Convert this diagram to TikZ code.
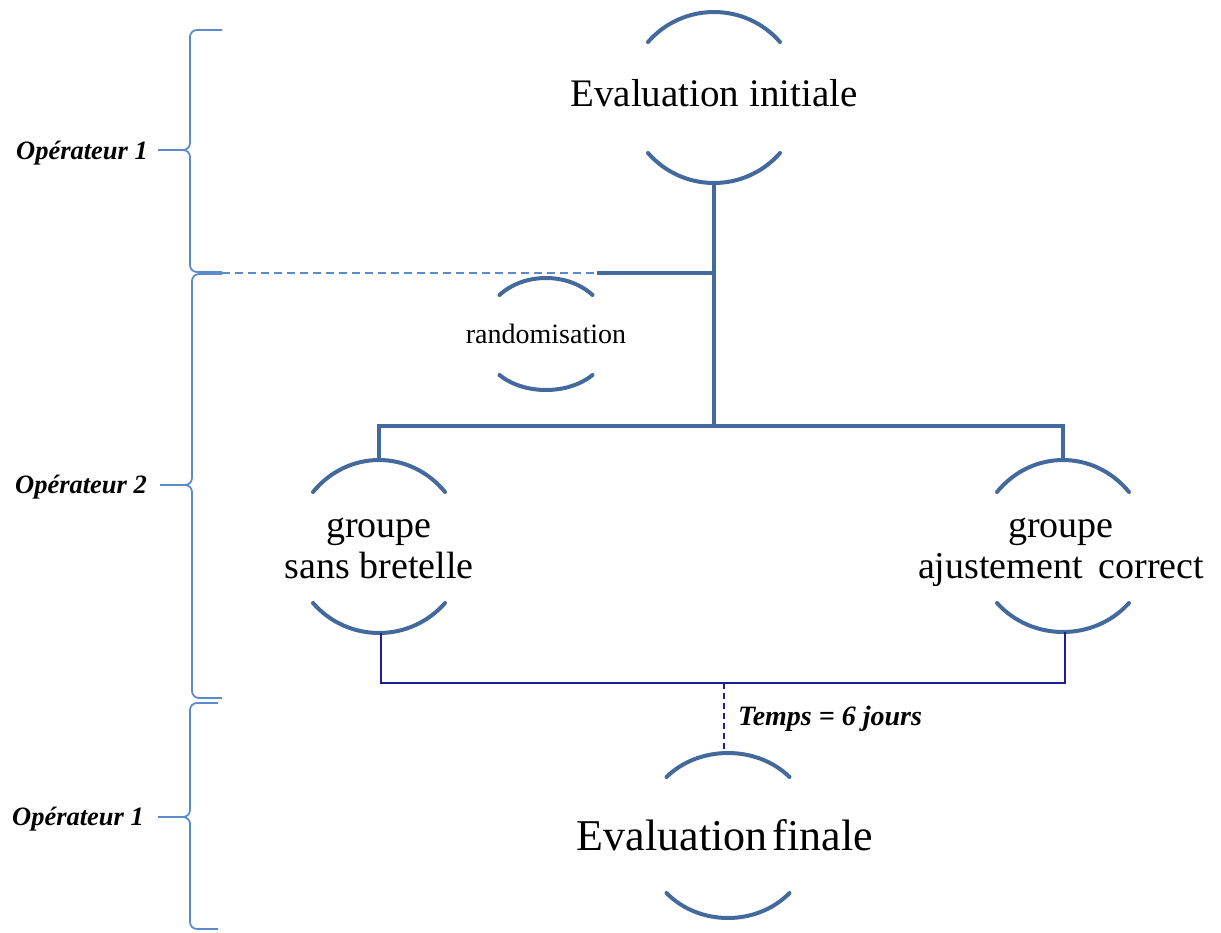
\documentclass[tikz,border=0pt]{standalone}
\usepackage{fontspec}
\setmainfont{Liberation Serif}
\definecolor{linec}{HTML}{44699C}
\definecolor{bracec}{HTML}{5B8BCB}
\definecolor{navyc}{HTML}{1E1E9A}
\newcommand\arcpair[6]{%
  \draw[arcline, shift={(#1)}] (-#2,#3) .. controls ({-0.47*#2},{#3-1.333*#4}) and ({0.47*#2},{#3-1.333*#4}) .. (#2,#3);
  \draw[arcline, shift={(#1)}] (-#2,#5) .. controls ({-0.47*#2},{#5+1.333*#6}) and ({0.47*#2},{#5+1.333*#6}) .. (#2,#5);
}
\begin{document}
\begin{tikzpicture}[x=1pt,y=-1pt,
  mainline/.style={draw=linec, line width=4.5pt},
  arcline/.style={draw=linec, line width=4pt, line cap=round},
  bracest/.style={draw=bracec, line width=1.8pt, rounded corners=7pt},
  navyline/.style={draw=navyc, line width=2.8pt},
  oplbl/.style={font=\fontsize{26.5}{30}\selectfont\bfseries\itshape, anchor=base, inner sep=0pt},
  txt/.style={anchor=base, inner sep=0pt, align=center}]
\useasboundingbox (0,0) rectangle (1221,932);

% braces
\draw[bracest] (222,30) -- (190,30) -- (190,150) -- (158,150);
\draw[bracest] (222,272) -- (190,272) -- (190,150) -- (158,150);
\draw[bracest] (222,274) -- (192,274) -- (192,485) -- (160,485);
\draw[bracest] (222,698) -- (192,698) -- (192,485) -- (160,485);
\draw[bracest] (218,703) -- (190,703) -- (190,817) -- (158,817);
\draw[bracest] (218,929) -- (190,929) -- (190,817) -- (158,817);

\node[oplbl] (op1) at (82,159) {Opérateur 1};
\node[oplbl] (op2) at (81,493) {Opérateur 2};
\node[oplbl] (op3) at (78,825) {Opérateur 1};

% Evaluation initiale
\coordinate (ei) at (714,97);
\node[txt, font=\fontsize{39}{45}\selectfont] (eit) at (714,106) {Evaluation initiale};
\arcpair{ei}{66}{-55}{30}{56}{30}

% randomisation
\coordinate (rd) at (546,335);
\node[txt, font=\fontsize{28}{30}\selectfont] (rdt) at (546,343) {randomisation};
\arcpair{rd}{46.5}{-40}{17}{40}{15}

% groups
\coordinate (gl) at (379,547);
\node[txt, font=\fontsize{38}{41}\selectfont] (glt) at (379,578) {groupe\\sans bretelle};
\arcpair{gl}{66}{-55}{32}{56}{30}
\coordinate (gr) at (1063,547);
\node[txt, font=\fontsize{38}{41}\selectfont] (grt) at (1061,578) {groupe\\ajustement\, correct};
\arcpair{gr}{66}{-55}{32}{56}{29}

% Evaluation finale
\coordinate (ef) at (728,835);
\node[txt, font=\fontsize{44}{50}\selectfont] (eft) at (725,850) {Evaluation\hspace{0.12em}finale};
\arcpair{ef}{61.5}{-58}{24}{58}{25}

% connectors
\coordinate (eiS) at (714,183);
\coordinate (junc) at (714,273);
\coordinate (rdJ) at (597,273);
\coordinate (b1end) at (222,273);
\coordinate (split) at (714,426);
\coordinate (glN) at (379,460);
\coordinate (grN) at (1063,460);
\draw[mainline] (eiS) -- (split);
\draw[mainline] (junc) -- (rdJ);
\draw[mainline] (glN) |- (split) -| (grN);
\draw[draw=bracec, line width=1.8pt, dash pattern=on 8pt off 5pt] (b1end) -- (rdJ);

\coordinate (glS) at (381,633);
\coordinate (grS) at (1065,632);
\coordinate (bl) at (381,683);
\coordinate (br) at (1065,683);
\coordinate (bm) at (724,683);
\coordinate (efN) at (724,753);
\draw[navyline] (glS) -- (bl) -- (br) -- (grS);
\draw[navyline, line width=2.5pt, dash pattern=on 6pt off 4pt] (bm) -- (efN);

\node[txt, anchor=base west, font=\fontsize{28}{30}\selectfont\bfseries\itshape] (tps) at (738,725) {Temps = 6 jours};
\end{tikzpicture}
\end{document}
